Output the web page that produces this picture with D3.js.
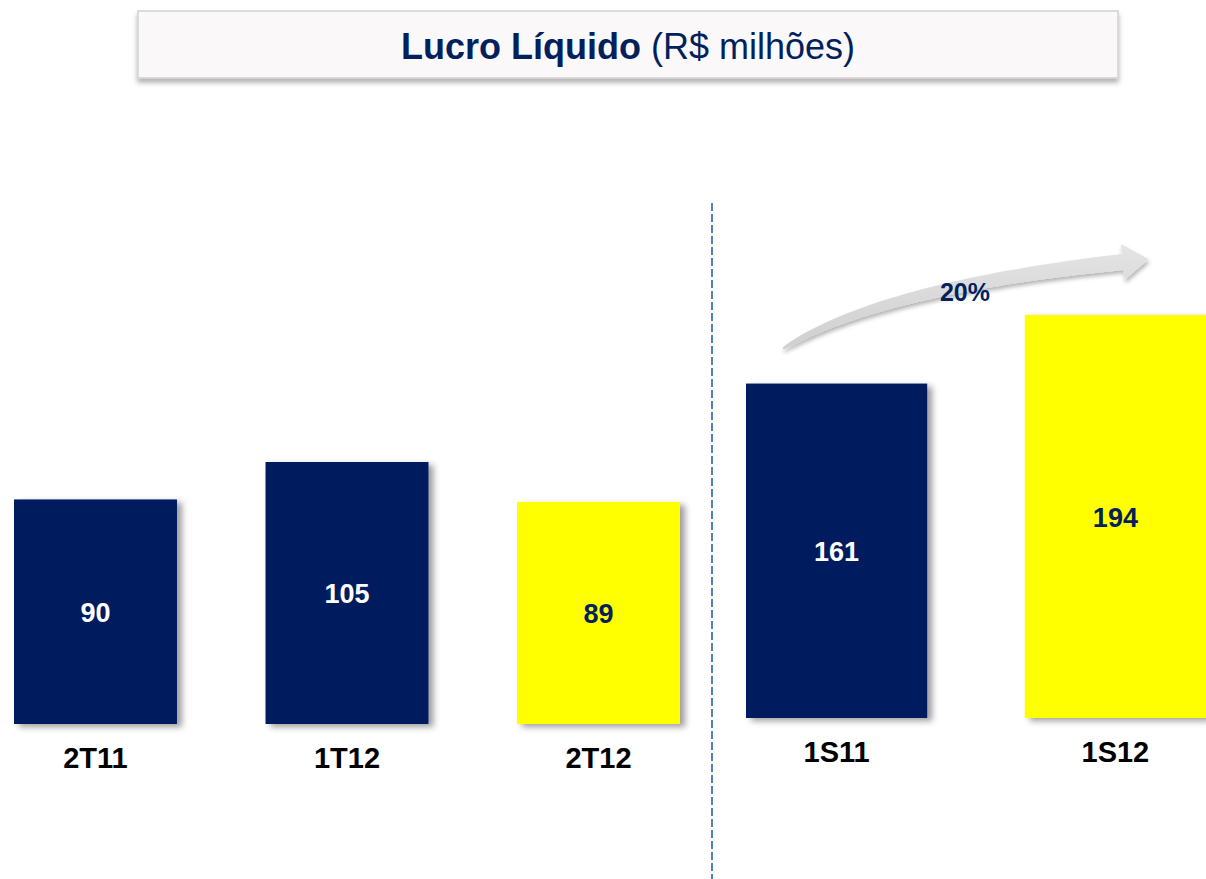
<!DOCTYPE html>
<html>
<head>
<meta charset="utf-8">
<script src="https://cdn.jsdelivr.net/npm/d3@7"></script>
<style>
  html, body { margin: 0; padding: 0; background: #fff; }
  svg { display: block; font-family: "Liberation Sans", Arial, sans-serif; }
</style>
</head>
<body>
<svg id="chart" width="1206" height="879"></svg>
<script>
// Dados do gráfico (R$ milhões)
const trimestres = ["2T11", "1T12", "2T12"];
const valoresTrim = [90, 105, 89];
const semestres = ["1S11", "1S12"];
const valoresSem = [161, 194];
const destaque = ["2T12", "1S12"];   // barras em amarelo
const crescimento = "20%";

const NAVY = "#021f5e";
const YELLOW = "#ffff00";

const svg = d3.select("#chart");
const defs = svg.append("defs");

// sombra das barras
const sh = defs.append("filter").attr("id", "sombra")
  .attr("x", "-10%").attr("y", "-10%").attr("width", "130%").attr("height", "130%");
sh.append("feDropShadow").attr("dx", 5).attr("dy", 3)
  .attr("stdDeviation", 3).attr("flood-color", "#000").attr("flood-opacity", 0.38);

// sombra da caixa do título
const shT = defs.append("filter").attr("id", "sombraTitulo")
  .attr("x", "-5%").attr("y", "-20%").attr("width", "110%").attr("height", "160%");
shT.append("feDropShadow").attr("dx", 0).attr("dy", 4)
  .attr("stdDeviation", 2.5).attr("flood-color", "#000").attr("flood-opacity", 0.3);

// sombra da seta
const shA = defs.append("filter").attr("id", "sombraSeta")
  .attr("x", "-10%").attr("y", "-30%").attr("width", "120%").attr("height", "180%");
shA.append("feDropShadow").attr("dx", 1).attr("dy", 3)
  .attr("stdDeviation", 2).attr("flood-color", "#000").attr("flood-opacity", 0.3);

const grad = defs.append("linearGradient").attr("id", "gradSeta")
  .attr("x1", 0).attr("y1", 0).attr("x2", 0).attr("y2", 1);
grad.append("stop").attr("offset", "0%").attr("stop-color", "#e4e4e4");
grad.append("stop").attr("offset", "100%").attr("stop-color", "#cfcfcf");

/*
* Caixa do título
*/
svg.append("rect")
  .attr("x", 138).attr("y", 11).attr("width", 980).attr("height", 67)
  .attr("fill", "#faf8f8").attr("stroke", "#d2d2d2").attr("stroke-width", 1.5)
  .attr("filter", "url(#sombraTitulo)");

const titulo = svg.append("text")
  .attr("x", 628).attr("y", 59)
  .attr("text-anchor", "middle")
  .style("font-size", "36px")
  .attr("fill", NAVY);
titulo.append("tspan").style("font-weight", "bold").text("Lucro Líquido");
titulo.append("tspan").text(" (R$ milhões)");

/*
* Escalas: dois painéis com escalas próprias
*/
const xT = d3.scaleBand().domain(trimestres).range([14, 680]).paddingInner(0.352);
const yT = d3.scaleLinear().domain([0, 105]).range([724, 462]);

const xS = d3.scaleBand().domain(semestres).range([746, 1206]).paddingInner(0.35);
const yS = d3.scaleLinear().domain([0, 194]).range([718, 315]);

function drawPanel(cats, vals, x, y, labelY) {
  const data = cats.map((c, i) => ({ cat: c, val: vals[i] }));
  const g = svg.append("g");

  g.selectAll("rect.bar")
    .data(data)
    .enter()
    .append("rect")
    .attr("class", "bar")
    .attr("x", d => x(d.cat))
    .attr("y", d => y(d.val))
    .attr("width", x.bandwidth())
    .attr("height", d => y(0) - y(d.val))
    .attr("fill", d => destaque.includes(d.cat) ? YELLOW : NAVY)
    .attr("filter", "url(#sombra)");

  g.selectAll("text.valor")
    .data(data)
    .enter()
    .append("text")
    .attr("class", "valor")
    .attr("x", d => x(d.cat) + x.bandwidth() / 2)
    .attr("y", d => (y(d.val) + y(0)) / 2 + 10)
    .attr("text-anchor", "middle")
    .style("font-size", "27px")
    .style("font-weight", "bold")
    .attr("fill", d => destaque.includes(d.cat) ? NAVY : "#fff")
    .text(d => d.val);

  g.selectAll("text.cat")
    .data(data)
    .enter()
    .append("text")
    .attr("class", "cat")
    .attr("x", d => x(d.cat) + x.bandwidth() / 2)
    .attr("y", labelY)
    .attr("text-anchor", "middle")
    .style("font-size", "29px")
    .style("font-weight", "bold")
    .attr("fill", "#000")
    .text(d => d.cat);
}

drawPanel(trimestres, valoresTrim, xT, yT, 768);
drawPanel(semestres, valoresSem, xS, yS, 762);

// divisória tracejada
svg.append("line")
  .attr("x1", 712).attr("x2", 712)
  .attr("y1", 203).attr("y2", 879)
  .attr("stroke", "#4f81bd").attr("stroke-width", 2)
  .attr("stroke-dasharray", "8,3");

/*
* Seta curva de crescimento (1S11 -> 1S12)
*/
const p0 = [xS("1S11") + 37, yS(valoresSem[0]) - 35];
const p2 = [xS("1S12") + 98, yS(valoresSem[1]) - 53];
const pc = [p0[0] + 97, p2[1] + 26];

function bez(t) {
  const a = (1 - t) * (1 - t), b = 2 * (1 - t) * t, c = t * t;
  return [a * p0[0] + b * pc[0] + c * p2[0], a * p0[1] + b * pc[1] + c * p2[1]];
}
function tang(t) {
  const dx = 2 * (1 - t) * (pc[0] - p0[0]) + 2 * t * (p2[0] - pc[0]);
  const dy = 2 * (1 - t) * (pc[1] - p0[1]) + 2 * t * (p2[1] - pc[1]);
  const n = Math.hypot(dx, dy);
  return [dx / n, dy / n];
}

const ts = d3.range(0, 1.0001, 0.02);
const upper = [], lower = [];
ts.forEach(t => {
  const p = bez(t), d = tang(t);
  const w = 1 + 7 * Math.pow(t, 0.6);
  upper.push([p[0] + d[1] * w, p[1] - d[0] * w]);
  lower.push([p[0] - d[1] * w, p[1] + d[0] * w]);
});
const dEnd = tang(1), pEnd = bez(1);
const headW = 18, headL = 26;
const headTop = [pEnd[0] + dEnd[1] * headW, pEnd[1] - dEnd[0] * headW];
const headBot = [pEnd[0] - dEnd[1] * headW, pEnd[1] + dEnd[0] * headW];
const tip = [pEnd[0] + dEnd[0] * headL, pEnd[1] + dEnd[1] * headL];

const pts = upper.concat([headTop, tip, headBot]).concat(lower.slice().reverse());
svg.append("path")
  .attr("d", d3.line()(pts) + "Z")
  .attr("fill", "url(#gradSeta)")
  .attr("filter", "url(#sombraSeta)");

svg.append("text")
  .attr("x", 965).attr("y", 301)
  .attr("text-anchor", "middle")
  .style("font-size", "25px")
  .style("font-weight", "bold")
  .attr("fill", NAVY)
  .text(crescimento);
</script>
</body>
</html>
